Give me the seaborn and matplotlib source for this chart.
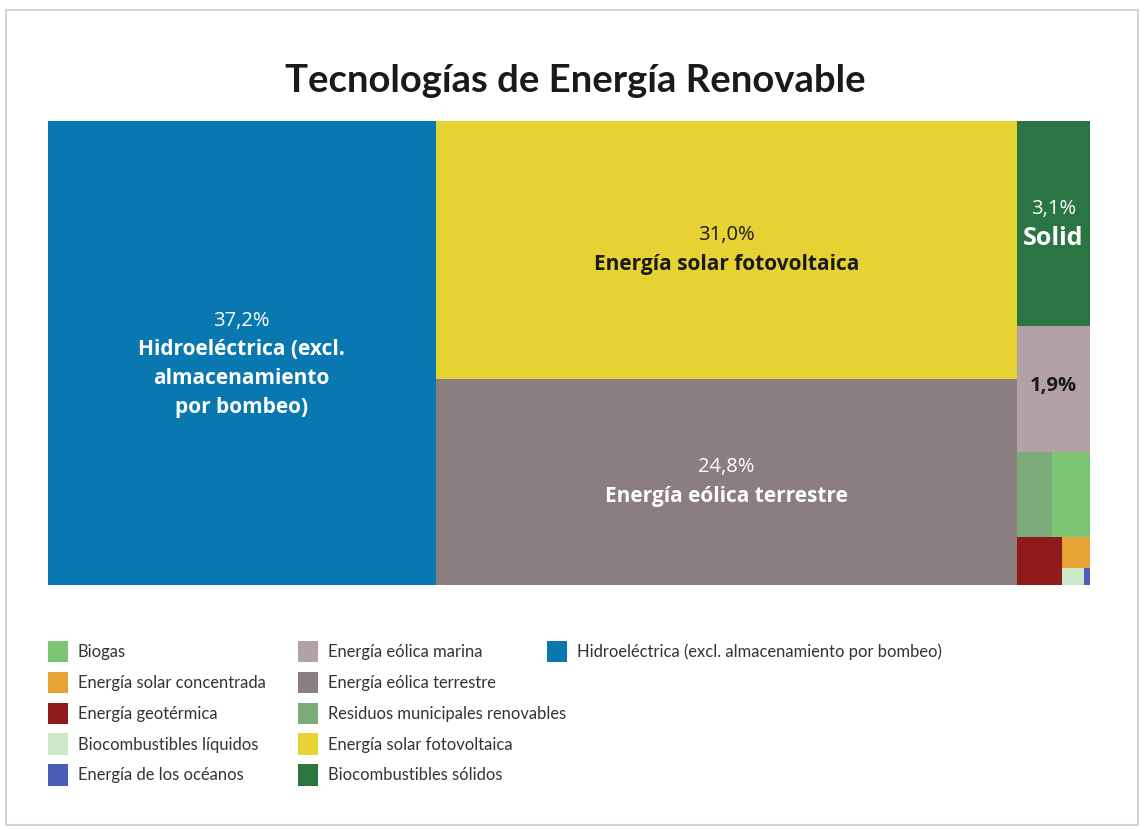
import matplotlib
matplotlib.use("Agg")
import matplotlib.pyplot as plt
import seaborn as sns
from matplotlib.patches import Rectangle, Patch

# ---------------- data ----------------
categories = [
    "Hidroeléctrica (excl. almacenamiento por bombeo)",
    "Energía solar fotovoltaica",
    "Energía eólica terrestre",
    "Biocombustibles sólidos",
    "Energía eólica marina",
    "Residuos municipales renovables",
    "Biogas",
    "Energía geotérmica",
    "Energía solar concentrada",
    "Biocombustibles líquidos",
    "Energía de los océanos",
]
values = [37.2, 31.0, 24.8, 3.1, 1.9, 0.62, 0.66, 0.44, 0.18, 0.08, 0.02]
colors = [
    "#0A78B0", "#E6D233", "#8A7E81", "#2A7542", "#B3A2A5", "#7DAA79",
    "#7CC673", "#8E1B1A", "#E6A232", "#CCE8C9", "#4A5EB5",
]
pct_labels = ["37,2%", "31,0%", "24,8%", "3,1%", "1,9%"]
name_labels = [
    ["Hidroeléctrica (excl.", "almacenamiento", "por bombeo)"],
    ["Energía solar fotovoltaica"],
    ["Energía eólica terrestre"],
    ["Solid"],
    [],
]
label_colors = ["white", "#1a1a1a", "white", "white", "#1a1a1a"]

legend_cols = [
    ["Biogas", "Energía solar concentrada", "Energía geotérmica",
     "Biocombustibles líquidos", "Energía de los océanos"],
    ["Energía eólica marina", "Energía eólica terrestre",
     "Residuos municipales renovables", "Energía solar fotovoltaica",
     "Biocombustibles sólidos"],
    ["Hidroeléctrica (excl. almacenamiento por bombeo)"],
]

# treemap grouping (alternating split direction, starting horizontal)
tree = [0, [1, 2], [3, 4, [5, 6], [7, [8, [9, 10]]]]]

# ---------------- layout ----------------
def total(node):
    if isinstance(node, int):
        return values[node]
    return sum(total(c) for c in node)

rects = {}

def layout(node, x, y, w, h, depth):
    if isinstance(node, int):
        rects[node] = (x, y, w, h)
        return
    t = total(node)
    for c in node:
        f = total(c) / t
        if depth % 2 == 0:
            layout(c, x, y, w * f, h, depth + 1)
            x += w * f
        else:
            layout(c, x, y, w, h * f, depth + 1)
            y += h * f

layout(tree, 0.0, 0.0, 1.0, 1.0, 0)

# ---------------- drawing ----------------
sns.set_theme(style="white")
plt.rcParams["font.family"] = ["Lato", "DejaVu Sans"]

fig = plt.figure(figsize=(11.45, 8.3), dpi=100)
fig.patch.set_facecolor("white")
ax = fig.add_axes([48 / 1145, 1 - 585 / 830, 1042 / 1145, 464 / 830])

for i in range(len(values)):
    x, y, w, h = rects[i]
    ax.bar(x, h, width=w, bottom=y, align="edge", color=colors[i],
           linewidth=0)

ax.set_xlim(0, 1)
ax.set_ylim(1, 0)
ax.set_axis_off()

# labels
lab_font = ["Open Sans", "DejaVu Sans"]
label_shift = {0: -11, 4: 3}   # pixel nudges of label blocks
for i, pct in enumerate(pct_labels):
    x, y, w, h = rects[i]
    cx, cy = x + w / 2, y + h / 2
    lines = [(pct, "bold" if i == 4 else "medium", 14.5)]
    size_name = 18 if i == 3 else 15
    for nm in name_labels[i]:
        lines.append((nm, "bold", size_name))
    n = len(lines)
    sp = 29
    for k, (txt, wt, fs) in enumerate(lines):
        off = -(k - (n - 1) / 2) * sp + label_shift.get(i, 0)
        ax.annotate(txt, (cx, cy), xytext=(0, off), textcoords="offset pixels",
                    ha="center", va="center", fontsize=fs, fontweight=wt,
                    color=label_colors[i], family=lab_font)

fig.text(575 / 1145, 1 - 81 / 830, "Tecnologías de Energía Renovable",
         ha="center", va="center", fontsize=27.5, fontweight="bold",
         color="#1a1a1a")

# legends
cmap = dict(zip(categories, colors))
anchors = [48, 298, 547]
for col, ax0 in zip(legend_cols, anchors):
    handles = [Patch(facecolor=cmap[c], edgecolor="none", label=c) for c in col]
    fig.legend(handles=handles, loc="upper left",
               bbox_to_anchor=(ax0 / 1145, 1 - 641 / 830), frameon=False,
               fontsize=11.9, handlelength=1.2, handleheight=1.6,
               handletextpad=0.6, labelspacing=0.58, borderpad=0,
               borderaxespad=0, labelcolor="#333333")

fig.patches.append(Rectangle((6 / 1145, 5 / 830), 1132 / 1145, 815 / 830,
                             transform=fig.transFigure, fill=False,
                             edgecolor="#d9d2cb", linewidth=1.5))

fig.savefig("out.png", dpi=100, facecolor="white")
